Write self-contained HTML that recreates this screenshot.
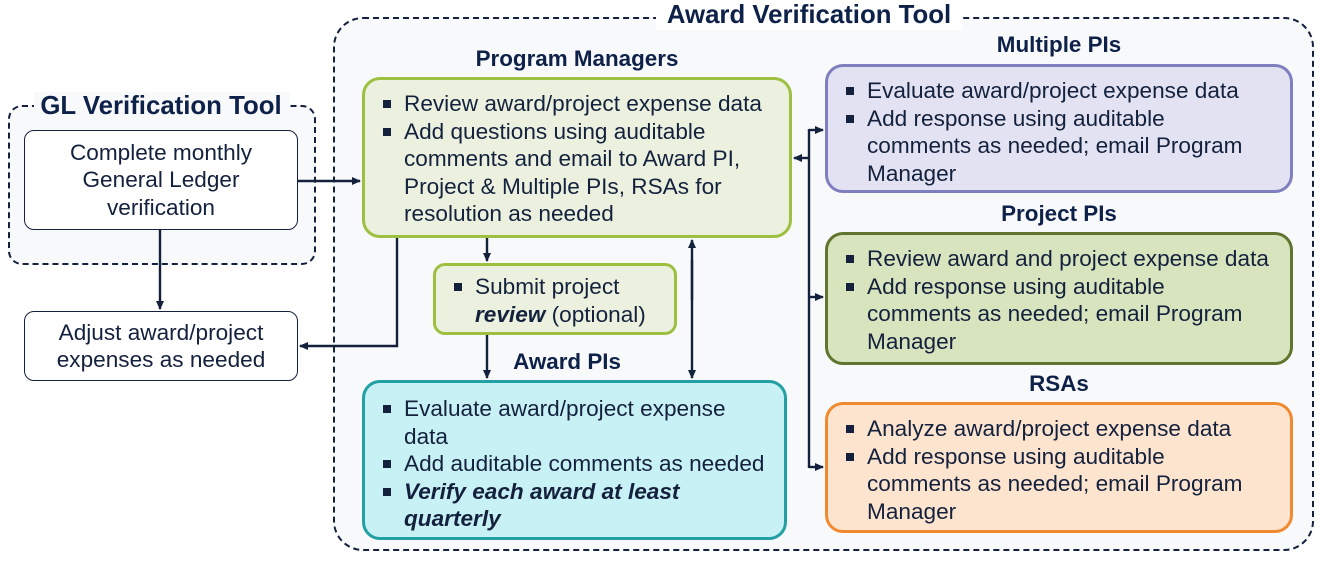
<!DOCTYPE html>
<html><head><meta charset="utf-8"><style>
body{margin:0;width:1332px;height:569px;background:#fff;position:relative;overflow:hidden;font-family:"Liberation Sans",Arial,sans-serif;color:#14213d}
.a{position:absolute;box-sizing:border-box}
.dash{border:2px dashed #14213d;background:#f8f9fb}
.t{position:absolute;font-weight:bold;color:#0e2148;white-space:nowrap;transform:translateX(-50%);line-height:26px}
.box{position:absolute;box-sizing:border-box;border-width:3px;border-style:solid;border-radius:18px;font-size:22.6px;line-height:27.5px;white-space:nowrap}
ul{margin:0;padding:0;list-style:none}
li{position:relative;padding-left:39px}
li:before{content:"";position:absolute;left:18px;top:10px;width:8px;height:8px;background:#14213d}
.w{position:absolute;box-sizing:border-box;border:1.5px solid #14213d;border-radius:10px;background:#fff;font-size:22.6px;line-height:27.5px;text-align:center;display:flex;align-items:center;justify-content:center}
</style></head><body>
<div class="a dash" style="left:333px;top:17px;width:981px;height:534px;border-radius:30px"></div>
<div class="a" style="left:656px;top:2px;width:306px;height:28px;background:#fff"></div>
<div class="t" style="left:809px;top:2px;font-size:25.8px">Award Verification Tool</div>
<div class="a dash" style="left:8px;top:105px;width:308px;height:160px;border-radius:14px"></div>
<div class="a" style="left:34px;top:92px;width:256px;height:28px;background:#f8f9fb"></div>
<div class="t" style="left:161px;top:93px;font-size:25.8px">GL Verification Tool</div>
<div class="w" style="left:24px;top:130px;width:274px;height:100px">Complete monthly<br>General Ledger<br>verification</div>
<div class="w" style="left:24px;top:311px;width:274px;height:70px">Adjust award/project<br>expenses as needed</div>

<div class="t" style="left:577px;top:46px;font-size:22.4px">Program Managers</div>
<div class="box" style="left:362px;top:77px;width:430px;height:161px;border-color:#9dc040;background:#ebf1de;padding-top:10px">
<ul><li>Review award/project expense data</li><li>Add questions using auditable<br>comments and email to Award PI,<br>Project &amp; Multiple PIs, RSAs for<br>resolution as needed</li></ul></div>
<div class="box" style="left:433px;top:263px;width:244px;height:72px;border-color:#9dc040;background:#ebf1de;border-radius:12px;padding-top:7px">
<ul><li>Submit project<br><b><i>review</i></b> (optional)</li></ul></div>
<div class="t" style="left:567px;top:349px;font-size:22.4px">Award PIs</div>
<div class="box" style="left:362px;top:380px;width:425px;height:160px;border-color:#22a0a4;background:#c8f1f5;padding-top:12px">
<ul><li>Evaluate award/project expense<br>data</li><li>Add auditable comments as needed</li><li><b><i>Verify each award at least<br>quarterly</i></b></li></ul></div>

<div class="t" style="left:1059px;top:32px;font-size:22.4px">Multiple PIs</div>
<div class="box" style="left:825px;top:64px;width:468px;height:129px;border-color:#7f7fbf;background:#e2e2f2;padding-top:10px">
<ul><li>Evaluate award/project expense data</li><li>Add response using auditable<br>comments as needed; email Program<br>Manager</li></ul></div>
<div class="t" style="left:1059px;top:201px;font-size:22.4px">Project PIs</div>
<div class="box" style="left:825px;top:232px;width:468px;height:133px;border-color:#5f7530;background:#d7e4bd;padding-top:10px">
<ul><li>Review award and project expense data</li><li>Add response using auditable<br>comments as needed; email Program<br>Manager</li></ul></div>
<div class="t" style="left:1059px;top:371px;font-size:22.4px">RSAs</div>
<div class="box" style="left:825px;top:402px;width:468px;height:131px;border-color:#f08a30;background:#fde4cf;padding-top:10px">
<ul><li>Analyze award/project expense data</li><li>Add response using auditable<br>comments as needed; email Program<br>Manager</li></ul></div>

<svg class="a" style="left:0;top:0" width="1332" height="569">
<defs><marker id="m" markerWidth="9" markerHeight="9" refX="8" refY="4.5" orient="auto" markerUnits="userSpaceOnUse"><path d="M0,0.5 L9,4.5 L0,8.5 Z" fill="#14213d"/></marker></defs>
<g stroke="#14213d" stroke-width="2.4" fill="none">
<line x1="298" y1="181" x2="360" y2="181" marker-end="url(#m)"/>
<line x1="160" y1="230" x2="160" y2="309" marker-end="url(#m)"/>
<polyline points="397,238 397,346 300,346" marker-end="url(#m)"/>
<line x1="487" y1="238" x2="487" y2="261" marker-end="url(#m)"/>
<line x1="487" y1="335" x2="487" y2="378" marker-end="url(#m)"/>
<line x1="692" y1="260" x2="692" y2="378" marker-end="url(#m)"/>
<line x1="692" y1="300" x2="692" y2="240" marker-end="url(#m)"/>
<line x1="809" y1="129" x2="809" y2="468"/>
<line x1="809" y1="130" x2="823" y2="130" marker-end="url(#m)"/>
<line x1="809" y1="297" x2="823" y2="297" marker-end="url(#m)"/>
<line x1="809" y1="467" x2="823" y2="467" marker-end="url(#m)"/>
<line x1="809" y1="158" x2="794" y2="158" marker-end="url(#m)"/>
</g></svg>
</body></html>
